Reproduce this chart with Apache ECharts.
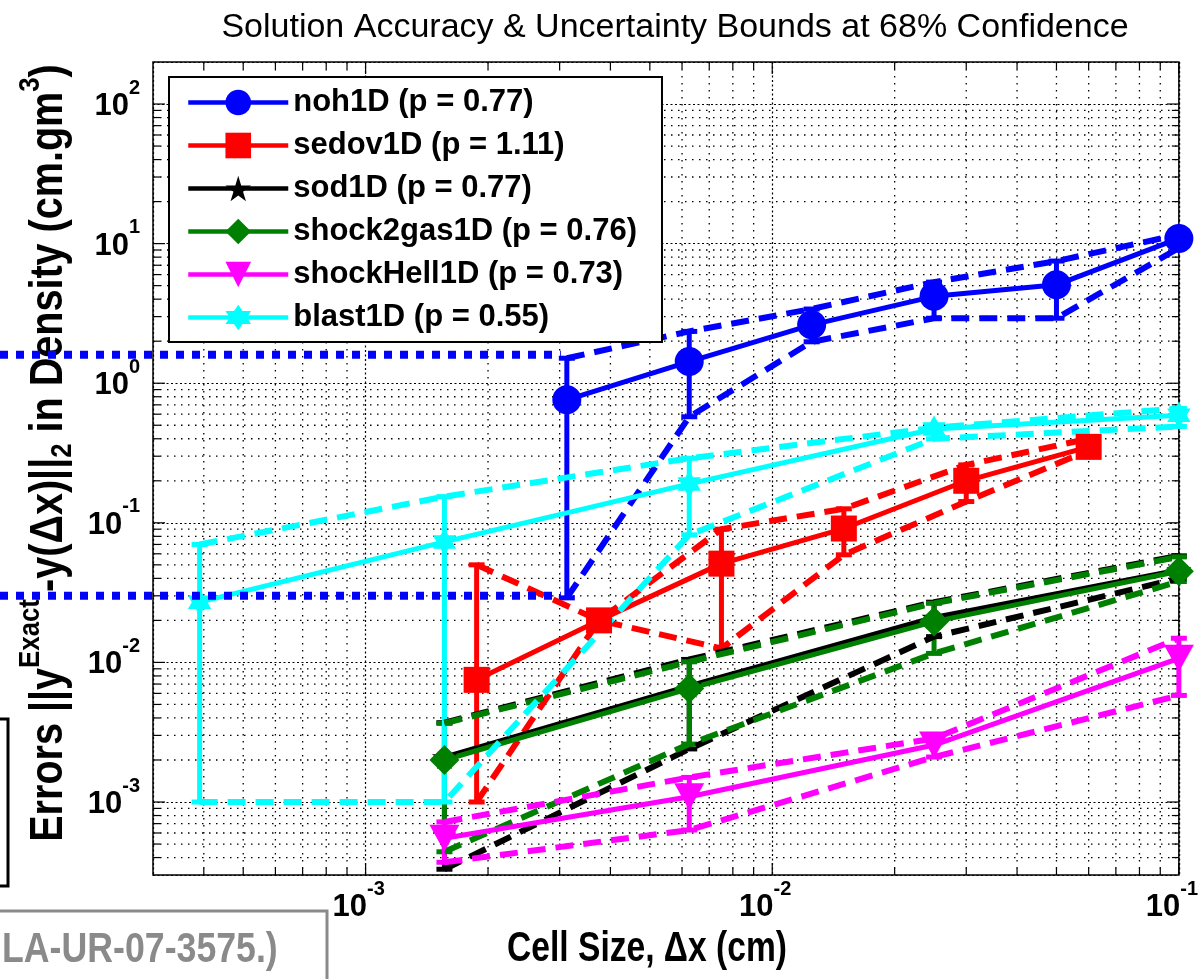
<!DOCTYPE html>
<html>
<head>
<meta charset="utf-8">
<script src="https://cdn.jsdelivr.net/npm/echarts@6/dist/echarts.min.js"></script>
<style>
html,body{margin:0;padding:0;background:#fff;}
#chart{width:1201px;height:979px;}
</style>
</head>
<body>
<div id="chart"></div>
<script>
// ---------------- axes / ticks ----------------
const xMin = 0.0003, xMax = 0.1;
const yMin = 0.0003, yMax = 200;
const xMajorTicks = [0.001, 0.01, 0.1];
const yMajorTicks = [0.001, 0.01, 0.1, 1, 10, 100];
const minorMantissas = [2, 3, 4, 5, 6, 7, 8, 9];
const xDecades = [0.0001, 0.001, 0.01];
const yDecades = [0.0001, 0.001, 0.01, 0.1, 1, 10, 100];

// ---------------- texts ----------------
const titleText = 'Solution Accuracy & Uncertainty Bounds at 68% Confidence';
const xTitle = 'Cell Size, \u0394x (cm)';
const stampText = 'LA-UR-07-3575.)';

// ---------------- data ----------------
const nohName = 'noh1D (p = 0.77)';
const nohX = [0.003125, 0.00625, 0.0125, 0.025, 0.05, 0.1];
const nohY = [0.76, 1.43, 2.62, 4.19, 5.07, 10.9];
const nohBoundA = [1.51, 2.35, 3.4, 5.3, 7.5, 11.6];
const nohBoundB = [0.029, 0.575, 1.98, 2.92, 2.92, 9.3];

const sedovName = 'sedov1D (p = 1.11)';
const sedovX = [0.001875, 0.00375, 0.0075, 0.015, 0.03, 0.06];
const sedovY = [0.0075, 0.020, 0.051, 0.091, 0.20, 0.35];
const sedovBoundA = [0.05, 0.020, 0.0126, 0.059, 0.142, 0.33];
const sedovBoundB = [0.001, 0.020, 0.09, 0.126, 0.26, 0.40];

const sodName = 'sod1D (p = 0.77)';
const sodX = [0.0015625, 0.00625, 0.025, 0.1];
const sodY = [0.0021, 0.0068, 0.021, 0.046];
const sodBoundA = [0.0037, 0.0105, 0.027, 0.058];
const sodBoundB = [0.00033, 0.0024, 0.0153, 0.040];

const s2gName = 'shock2gas1D (p = 0.76)';
const s2gX = [0.0015625, 0.00625, 0.025, 0.1];
const s2gY = [0.0020, 0.0065, 0.0196, 0.045];
const s2gBoundA = [0.00366, 0.0101, 0.0265, 0.057];
const s2gBoundB = [0.00044, 0.0026, 0.0116, 0.038];

const hellName = 'shockHell1D (p = 0.73)';
const hellX = [0.0015625, 0.00625, 0.025, 0.1];
const hellY = [0.00055, 0.00109, 0.00256, 0.0107];
const hellBoundA = [0.00072, 0.0015, 0.00285, 0.0149];
const hellBoundB = [0.00037, 0.00063, 0.0021, 0.0058];

const blastName = 'blast1D (p = 0.55)';
const blastX = [0.000390625, 0.0015625, 0.00625, 0.025, 0.1];
const blastY = [0.027, 0.073, 0.19, 0.47, 0.59];
const blastBoundA = [0.07, 0.154, 0.29, 0.48, 0.66];
const blastBoundB = [0.001, 0.001, 0.082, 0.40, 0.49];

// reference levels of the blue dotted annotation lines
const refLevels = [1.6, 0.030];

// ---------------- styling ----------------
const FONT = '"Liberation Sans", Arial, sans-serif';
const NARROW = '"Liberation Sans Narrow", "Liberation Sans", Arial, sans-serif';
const STAR = 'path://M50,0 L61,35 L98,35 L68,57 L79,91 L50,70 L21,91 L32,57 L2,35 L39,35 Z';
const HEXAGRAM = 'path://M50,0 L64.4,25 L93.3,25 L78.9,50 L93.3,75 L64.4,75 L50,100 L35.6,75 L6.7,75 L21.1,50 L6.7,25 L35.6,25 Z';
const TRI_DOWN = 'path://M0,0 L100,0 L50,90 Z';
const SOLID_W = 5, DASH_W = 6, BAR_W = 5;

const sets = [
  {name: nohName, color: '#0000ff', symbol: 'circle', size: 29, x: nohX, y: nohY, a: nohBoundA, b: nohBoundB},
  {name: sedovName, color: '#ff0000', symbol: 'rect', size: 26, x: sedovX, y: sedovY, a: sedovBoundA, b: sedovBoundB},
  {name: sodName, color: '#000000', symbol: STAR, size: 25, x: sodX, y: sodY, a: sodBoundA, b: sodBoundB},
  {name: s2gName, color: '#008000', symbol: 'diamond', size: 30, x: s2gX, y: s2gY, a: s2gBoundA, b: s2gBoundB},
  {name: hellName, color: '#ff00ff', symbol: TRI_DOWN, size: 30, x: hellX, y: hellY, a: hellBoundA, b: hellBoundB},
  {name: blastName, color: '#00ffff', symbol: HEXAGRAM, size: 27, x: blastX, y: blastY, a: blastBoundA, b: blastBoundB}
];

function minorValues(decades, lo, hi) {
  const out = [];
  decades.forEach(d => minorMantissas.forEach(m => {
    const v = m * d;
    if (v > lo * 1.001 && v < hi * 0.999) out.push(v);
  }));
  return out;
}
const xMinorTicks = minorValues(xDecades, xMin, xMax);
const yMinorTicks = minorValues(yDecades, yMin, yMax);

function powLabel(v) {
  const l = Math.log10(v);
  const e = Math.round(l);
  if (Math.abs(l - e) > 1e-6) return '';
  return '{b|10}{s|' + e + '}';
}

function errorBarRender(color) {
  return function (params, api) {
    const x = api.value(0);
    const lo = api.coord([x, api.value(1)]);
    const hi = api.coord([x, api.value(2)]);
    const w = 8;
    const st = {stroke: color, lineWidth: BAR_W};
    return {
      type: 'group',
      children: [
        {type: 'line', shape: {x1: lo[0], y1: lo[1], x2: hi[0], y2: hi[1]}, style: st},
        {type: 'line', shape: {x1: hi[0] - w, y1: hi[1], x2: hi[0] + w, y2: hi[1]}, style: st},
        {type: 'line', shape: {x1: lo[0] - w, y1: lo[1], x2: lo[0] + w, y2: lo[1]}, style: st}
      ]
    };
  };
}

const minorGridStyle = {stroke: '#000', lineWidth: 1.3, lineDash: [1.5, 5.5]};
const tickStyle = {stroke: '#000', lineWidth: 1.2};

const series = [];
// x ticks (all four sides) and minor vertical grid lines
series.push({
  type: 'custom', name: 'xTicks', silent: true, z: 1, clip: false,
  data: xMajorTicks.map(v => [v, 1, 1]).concat(xMinorTicks.map(v => [v, 1, 0])),
  encode: {x: 0, y: 1},
  renderItem: function (params, api) {
    const cs = params.coordSys;
    const px = api.coord([api.value(0), 1])[0];
    const major = api.value(2) === 1;
    const L = major ? 12 : 7;
    const b = cs.y + cs.height;
    const ch = [
      {type: 'line', shape: {x1: px, y1: b, x2: px, y2: b - L}, style: tickStyle},
      {type: 'line', shape: {x1: px, y1: cs.y, x2: px, y2: cs.y + L}, style: tickStyle}
    ];
    if (!major) ch.push({type: 'line', shape: {x1: px, y1: cs.y, x2: px, y2: b}, style: minorGridStyle});
    return {type: 'group', children: ch};
  }
});
// y ticks and minor horizontal grid lines
series.push({
  type: 'custom', name: 'yTicks', silent: true, z: 1, clip: false,
  data: yMajorTicks.map(v => [0.01, v, 1]).concat(yMinorTicks.map(v => [0.01, v, 0])),
  encode: {x: 0, y: 1},
  renderItem: function (params, api) {
    const cs = params.coordSys;
    const py = api.coord([0.01, api.value(1)])[1];
    const major = api.value(2) === 1;
    const L = major ? 12 : 7;
    const r = cs.x + cs.width;
    const ch = [
      {type: 'line', shape: {x1: cs.x, y1: py, x2: cs.x + L, y2: py}, style: tickStyle},
      {type: 'line', shape: {x1: r, y1: py, x2: r - L, y2: py}, style: tickStyle}
    ];
    if (!major) ch.push({type: 'line', shape: {x1: cs.x, y1: py, x2: r, y2: py}, style: minorGridStyle});
    return {type: 'group', children: ch};
  }
});

sets.forEach(s => {
  const dash = {color: s.color, width: DASH_W, type: [18, 10]};
  series.push({type: 'line', name: s.name + ' bound A', silent: true, symbol: 'none', showSymbol: false,
    data: s.x.map((x, i) => [x, s.a[i]]), lineStyle: dash, z: 2});
  series.push({type: 'line', name: s.name + ' bound B', silent: true, symbol: 'none', showSymbol: false,
    data: s.x.map((x, i) => [x, s.b[i]]), lineStyle: dash, z: 2});
  series.push({type: 'custom', name: s.name + ' error bar', silent: true, z: 2,
    data: s.x.map((x, i) => [x, Math.min(s.a[i], s.b[i]), Math.max(s.a[i], s.b[i])]),
    encode: {x: 0, y: [1, 2]}, renderItem: errorBarRender(s.color)});
  series.push({type: 'line', name: s.name, z: 2,
    data: s.x.map((x, i) => [x, s.y[i]]),
    symbol: s.symbol, symbolSize: s.size, symbolKeepAspect: true, showSymbol: true,
    itemStyle: {color: s.color, borderWidth: 0},
    lineStyle: {color: s.color, width: SOLID_W},
    emphasis: {disabled: true}});
});

const option = {
  animation: false,
  backgroundColor: '#ffffff',
  title: {
    text: titleText, left: 670, top: 6, textAlign: 'center',
    textStyle: {fontFamily: FONT, fontSize: 34, fontWeight: 'normal', color: '#000'}
  },
  grid: {left: 153, right: 12, top: 62, bottom: 104, show: true, borderColor: '#000', borderWidth: 1.5, backgroundColor: 'transparent'},
  legend: {
    orient: 'vertical', left: 169, top: 77,
    data: sets.map(s => s.name),
    selectedMode: false,
    itemWidth: 100, itemHeight: 32, itemGap: 12,
    padding: [10, 25, 9, 17],
    backgroundColor: '#fff', borderColor: '#000', borderWidth: 2, borderRadius: 0,
    lineStyle: {width: 4.5},
    textStyle: {fontFamily: FONT, fontSize: 31, fontWeight: 'bold', color: '#000'},
    z: 10
  },
  xAxis: {
    type: 'log', logBase: 10, min: xMin, max: xMax,
    axisLine: {show: false}, axisTick: {show: false},
    splitLine: {show: true, lineStyle: {color: '#000', width: 1.2, type: [2, 2.5]}},
    axisLabel: {
      formatter: powLabel, margin: 4, padding: [0, 14, 0, 0],
      rich: {
        b: {fontFamily: NARROW, fontSize: 31, fontWeight: 'bold', color: '#000', padding: [13, 0, 0, 0]},
        s: {fontFamily: NARROW, fontSize: 20, fontWeight: 'bold', color: '#000', verticalAlign: 'top'}
      }
    }
  },
  yAxis: {
    type: 'log', logBase: 10, min: yMin, max: yMax,
    axisLine: {show: false}, axisTick: {show: false},
    splitLine: {show: true, lineStyle: {color: '#000', width: 1.2, type: [2, 2.5]}},
    axisLabel: {
      formatter: powLabel, margin: 13, padding: [0, 0, 8, 0],
      rich: {
        b: {fontFamily: FONT, fontSize: 31, fontWeight: 'bold', color: '#000', padding: [13, 0, 0, 0]},
        s: {fontFamily: FONT, fontSize: 20, fontWeight: 'bold', color: '#000', verticalAlign: 'top'}
      }
    }
  },
  series: series
};

const chart = echarts.init(document.getElementById('chart'), null, {renderer: 'canvas'});
chart.setOption(option);

// annotations positioned through the chart's own scales
const xEnd = chart.convertToPixel({gridIndex: 0}, [nohX[0], 1])[0] - 6;
const graphics = [];
refLevels.forEach(v => {
  const py = chart.convertToPixel({gridIndex: 0}, [0.01, v])[1];
  graphics.push({type: 'line', z: 100, silent: true,
    shape: {x1: 0, y1: py, x2: xEnd, y2: py},
    style: {stroke: '#0000ff', lineWidth: 8, lineDash: [8, 8]}});
});
// axis titles
graphics.push({type: 'text', z: 50, x: 647, y: 949, scaleX: 0.8,
  style: {text: xTitle, fontFamily: FONT, fontSize: 42, fontWeight: 'bold', fill: '#000', align: 'center', verticalAlign: 'middle'}});
graphics.push({type: 'text', z: 50, x: 47, y: 453, rotation: Math.PI / 2, scaleX: 0.86,
  style: {
    text: '{n|Errors ||y}{sup|Exact }{n|-y(\u0394x)||}{sub|2}{n| in Density (cm.gm}{sup|3}{n|)}',
    align: 'center', verticalAlign: 'middle', fill: '#000',
    rich: {
      n: {fontFamily: FONT, fontSize: 46, fontWeight: 'bold', fill: '#000', padding: [10, 0, 6, 0]},
      sup: {fontFamily: FONT, fontSize: 30, fontWeight: 'bold', fill: '#000', verticalAlign: 'top'},
      sub: {fontFamily: FONT, fontSize: 30, fontWeight: 'bold', fill: '#000', verticalAlign: 'bottom'}
    }
  }});
// stamp box (bottom-left)
graphics.push({type: 'polyline', z: 50, silent: true,
  shape: {points: [[0, 911], [327, 911], [327, 979]]},
  style: {stroke: '#8a8a8a', lineWidth: 3, fill: null}});
graphics.push({type: 'text', z: 50, x: 2, y: 950, scaleX: 0.85,
  style: {text: stampText, fontFamily: FONT, fontSize: 42, fontWeight: 'bold', fill: '#8a8a8a', align: 'left', verticalAlign: 'middle'}});
// black bracket at left edge
graphics.push({type: 'polyline', z: 50, silent: true,
  shape: {points: [[0, 719], [8, 719], [8, 886], [0, 886]]},
  style: {stroke: '#000', lineWidth: 3, fill: null}});

chart.setOption({graphic: graphics});
</script>
</body>
</html>
